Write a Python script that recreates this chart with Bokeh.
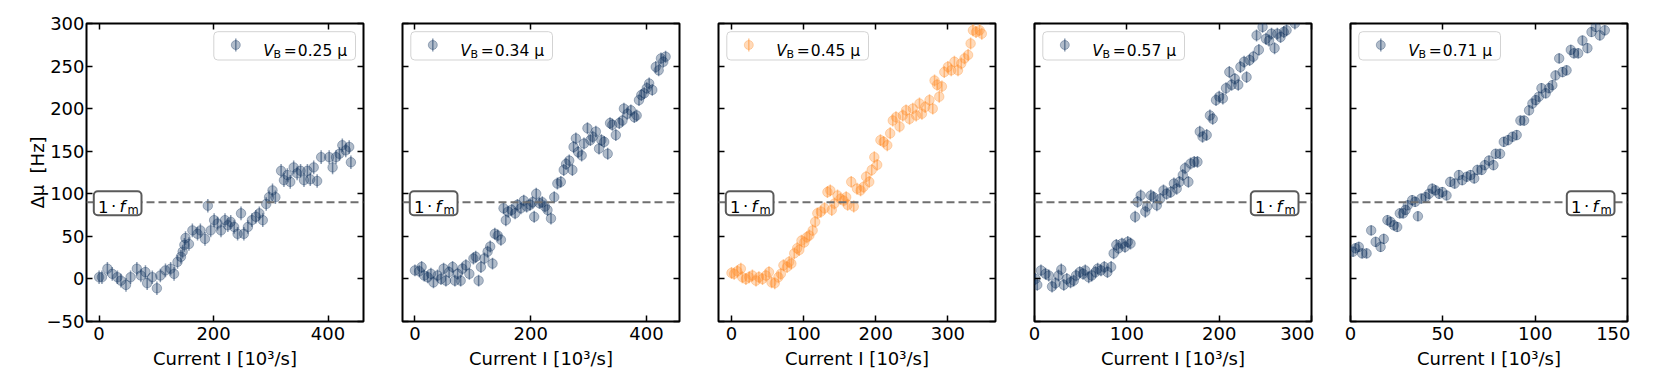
from bokeh.plotting import figure
from bokeh.layouts import row
from bokeh.models import (Range1d, FixedTicker, LinearAxis, Span, BoxAnnotation, Label,
                          CustomLabelingPolicy)
from bokeh.embed import file_html
from bokeh.resources import INLINE

FONT = "DejaVu Sans"
BLUE = "#12345f"
ORANGE = "#ff8f2e"

# ---------------- data ----------------
vb_labels = ["0.25", "0.34", "0.45", "0.57", "0.71"]
fm_level = 90

x1 = [0, 5, 14.5, 23, 32, 38, 47, 55, 66, 73, 81, 84, 93, 101, 107, 116, 125, 131, 137, 143, 146, 149, 151, 157,
      163, 172, 177, 185, 190, 195, 201, 207, 213, 220, 225, 230, 236, 242, 248, 253, 260, 267, 274, 280, 286,
      292, 297, 303, 308, 318, 323, 329, 334, 340, 346, 352, 358, 364, 369, 375, 381, 388, 402, 408, 414, 420,
      425, 431, 437, 440]
y1 = [2, 2, 12, 6, 2, -2, -7, 2, 12, 4, 8, -5, 2, -11, 4, 10, 12, 6, 20, 26, 32, 40, 48, 41, 57, 53, 57, 47, 86,
      57, 69, 65, 57, 69, 63, 67, 61, 53, 77, 53, 61, 69, 73, 77, 69, 88, 96, 104, 96, 127, 116, 122, 114, 131,
      124, 127, 116, 127, 117, 131, 115, 143, 143, 131, 143, 147, 157, 151, 155, 137]
err1 = 8

x2 = [0, 7.5, 11.5, 16, 22, 27.6, 32, 39, 45, 49.5, 53.5, 59, 65, 69, 73.7, 79, 82, 88, 94, 101, 105, 110, 114,
      120, 125.5, 130, 134, 138, 143, 148.5, 153, 157, 161, 167, 173, 177, 183, 188, 193, 199, 203, 206, 209.5,
      215, 220, 224.5, 229, 235, 240.6, 246, 252, 257, 261, 266.5, 272, 274, 278, 282, 288, 292, 298, 303, 307,
      312.5, 318, 322, 327, 333, 337, 341, 347, 353, 358.5, 361, 367, 373, 379, 383, 387, 391, 396, 400.5,
      404.6, 410, 416, 421, 425, 429, 433]
y2 = [10, 9, 14, 4, 2, 6, -4, 4, 0, 12, -2, 8, 14, -2, 6, -2, 12, 16, 6, 24, 26, -2, 14, 24, 32, 38, 18, 53, 51,
      46, 83, 69, 79, 81, 77, 87, 83, 92, 85, 87, 90, 73, 100, 89, 90, 85, 81, 71, 96, 112, 114, 128, 135, 139,
      128, 155, 165, 149, 145, 159, 177, 163, 167, 173, 153, 163, 161, 147, 183, 181, 169, 183, 186, 200, 194,
      198, 190, 192, 210, 216, 218, 224, 229.5, 222, 249, 245, 259, 255, 261]
err2 = 7

x3 = [0, 3.7, 8, 13, 15, 20, 24.5, 29, 34, 38, 43, 47.7, 52, 55.5, 60, 65, 68.5, 72, 77, 80, 83, 87, 91, 94, 97,
      101, 104.6, 108, 112.5, 116, 119, 124, 129, 133, 137, 139, 142.6, 147, 151, 155.5, 159, 161, 166, 169.5,
      174, 179, 183, 186.6, 191, 194.4, 198, 202, 206.5, 211, 216, 220, 223.6, 228, 233, 237.5, 242, 246.8,
      251.4, 256, 260.6, 264, 268.5, 274.5, 279, 281.5, 285, 288, 291.7, 295, 300, 304.6, 309, 314, 318.5,
      323, 328, 331.5, 334.7, 339, 344, 347]
y3 = [7, 6, 9, 12, 2, 0, 2, 4, -2, 2, 0, 4, 8, -4, -5, 2, 6, 16, 14, 20, 18, 30, 36, 34, 45, 43, 49, 51, 57, 67,
      77, 79, 83, 102, 104, 81, 88.5, 98, 94, 92, 96, 87, 114, 85, 106, 104, 108, 120, 114, 128, 143, 134, 163,
      161, 157, 171, 186, 190, 179, 192, 198, 188, 200, 192, 206, 194, 202, 210, 200, 233, 228, 214, 226, 243,
      249, 245, 255, 245, 253, 259, 263, 276.5, 292, 290, 292, 288]
err3 = 7

x4 = [1, 3, 7, 12, 15.5, 19, 22.7, 26, 29, 31.7, 35, 39, 42.5, 45, 49, 52.6, 55, 58.7, 62, 66, 68.4, 72, 75.6,
      79, 83, 85.7, 88.6, 91, 94.7, 98, 101, 104, 109, 111.6, 115, 120, 122, 126, 129, 132.5, 136, 139.7, 143,
      147.6, 151, 154, 157, 160.6, 163, 166.7, 169, 173, 176.5, 179, 182, 186.5, 190, 193, 196.6, 200, 204,
      207.4, 211, 213.5, 217, 220.7, 223, 227, 229.7, 233, 237, 240.5, 243, 247, 250.6, 254, 256.7, 260, 263,
      266.5, 270, 273, 282]
y4 = [0, -7, 10, 6, 4, -9, -5, 4, 11, -7, 0, -4, -2, 4, 8, 6, 10, 2, 4, 8, 12, 10, 14, 8, 14, 30, 40, 36, 41.5,
      37.6, 43.5, 41.5, 73, 90.5, 98, 79, 85, 98, 96, 86.5, 94, 104, 100, 102, 112, 106, 114, 122, 130, 114,
      135.5, 137.5, 137.5, 173, 167, 169, 192, 188, 210, 214, 212, 224, 243, 228, 235, 228, 249, 255, 237, 257,
      261, 286, 269, 296, 282, 280, 288, 271, 288, 284, 290, 292, 300]
err4 = 7

x5 = [1.4, 2.7, 4.5, 6.3, 8.7, 11.2, 13.6, 16.3, 18, 20, 21.7, 23.5, 25.3, 26.7, 28.5, 29.8, 31, 33.4, 35, 36.5,
      38.3, 40.7, 42.5, 44.3, 46, 48, 49.7, 52, 54, 56.4, 58.7, 60.5, 63, 65, 67, 68.7, 71, 72.7, 75, 77.4, 78.6,
      81, 83, 85.3, 87.7, 90, 92, 94, 96.7, 98.5, 100.3, 102, 103.4, 105.7, 107.5, 109.3, 111, 113, 114.8, 117,
      119.3, 121, 123.3, 125.6, 128.3, 130.5, 132.8, 135, 137.7]
y5 = [32, 36, 37.6, 30, 30, 57, 43.5, 37.6, 47, 69, 67, 63, 61, 77, 77, 81, 86.5, 92.5, 90.5, 73.6, 94.4, 96, 100,
      106, 104, 100, 102, 98, 114, 112, 122, 116, 120, 122, 118, 128, 128, 133.6, 139, 133.6, 147, 147, 161,
      163, 167, 169, 186, 186, 198, 206, 210, 214, 224, 218, 224, 227.6, 239, 259, 243, 245, 269, 265, 265,
      280, 271, 290, 296, 286, 292]
err5 = 6

panel_x = [x1, x2, x3, x4, x5]
panel_y = [y1, y2, y3, y4, y5]
panel_err = [err1, err2, err3, err4, err5]
panel_color = [BLUE, BLUE, ORANGE, BLUE, BLUE]
panel_xrange = [(-22, 462), (-21.5, 457), (-18, 366), (0, 300), (0, 150)]
panel_xticks = [[0, 200, 400], [0, 200, 400], [0, 100, 200, 300], [0, 100, 200, 300], [0, 50, 100, 150]]
yticks = [-50, 0, 50, 100, 150, 200, 250, 300]
y_lim = (-50, 300)

# ---------------- layout ----------------
FW, FH = 277, 298
TOP, BOTTOM, RIGHT = 23, 60, 3
FS = "18px"      # ticks / axis labels
LFS = "15.5px"   # legend / annotation text
SFS = "11px"     # subscripts

HIDE = """
for (const i of indices) {
    indices.unset(i)
}
return indices
"""


def fx(p, px):
    return p.x_range.start + px / FW * (p.x_range.end - p.x_range.start)


def fy(p, py):
    return p.y_range.end - py / FH * (p.y_range.end - p.y_range.start)


def text(p, px, py, s, size=LFS, style="normal"):
    p.add_layout(Label(x=fx(p, px), y=fy(p, py), text=s, text_font=FONT, text_font_size=size,
                       text_font_style=style, text_color="black", text_align="left",
                       text_baseline="alphabetic"))


def style_axis(ax, ticks, show_labels, standoff=5):
    ax.ticker = FixedTicker(ticks=ticks)
    ax.major_tick_in = 6
    ax.major_tick_out = 0
    ax.minor_tick_in = 0
    ax.minor_tick_out = 0
    ax.major_tick_line_width = 1.5
    ax.major_tick_line_color = "black"
    ax.axis_line_color = None
    ax.major_label_text_font = FONT
    ax.major_label_text_color = "black"
    if show_labels:
        ax.major_label_text_font_size = FS
        ax.major_label_standoff = standoff
    else:
        ax.major_label_text_font_size = "0px"
        ax.major_label_standoff = 0
        ax.major_label_policy = CustomLabelingPolicy(code=HIDE)


figs = []
for i in range(5):
    left = 86 if i == 0 else 36
    p = figure(width=left + FW + RIGHT, height=TOP + FH + BOTTOM,
               x_range=Range1d(*panel_xrange[i]), y_range=Range1d(*y_lim),
               output_backend="svg", toolbar_location=None,
               min_border_left=left, min_border_right=RIGHT,
               min_border_top=TOP, min_border_bottom=BOTTOM)
    p.grid.visible = False
    p.outline_line_color = "black"
    p.outline_line_width = 2
    p.background_fill_color = "white"
    p.border_fill_color = "white"

    style_axis(p.xaxis[0], panel_xticks[i], True, standoff=5)
    style_axis(p.yaxis[0], yticks, i == 0, standoff=2)
    if i == 0:
        p.yaxis[0].major_label_overrides = {-50: "\u221250"}
        p.yaxis[0].axis_label = "\u0394\u03bc\u00a0\u00a0[Hz]"
        p.yaxis[0].axis_label_text_font = FONT
        p.yaxis[0].axis_label_text_font_size = FS
        p.yaxis[0].axis_label_text_font_style = "normal"
        p.yaxis[0].axis_label_text_color = "black"
        p.yaxis[0].axis_label_standoff = -4
    p.xaxis[0].axis_label = "Current I [10\u00b3/s]"
    p.xaxis[0].axis_label_text_font = FONT
    p.xaxis[0].axis_label_text_font_size = FS
    p.xaxis[0].axis_label_text_font_style = "normal"
    p.xaxis[0].axis_label_text_color = "black"
    p.xaxis[0].axis_label_standoff = 5

    top_ax = LinearAxis()
    style_axis(top_ax, panel_xticks[i], False)
    p.add_layout(top_ax, "above")
    right_ax = LinearAxis()
    style_axis(right_ax, yticks, False)
    p.add_layout(right_ax, "right")

    color = panel_color[i]
    xs, ys, e = panel_x[i], panel_y[i], panel_err[i]
    lo = [v - e for v in ys]
    hi = [v + e for v in ys]
    p.segment(x0=xs, y0=lo, x1=xs, y1=hi, line_color=color, line_alpha=0.5, line_width=1.5)
    p.scatter(x=xs, y=ys, size=9.5, marker="circle", fill_color=color, fill_alpha=0.33,
              line_color=color, line_alpha=0.33)

    # dashed 1*f_m line
    p.add_layout(Span(location=fm_level, dimension="width", line_color="#6f6f6f", line_width=2,
                      line_dash="8 4"))

    # 1*f_m boxed label
    bl = 7.3 if i < 3 else FW - 13 - 47.7
    p.add_layout(BoxAnnotation(left=fx(p, bl), right=fx(p, bl + 47.7), top=fy(p, 167.7),
                               bottom=fy(p, 191.7), fill_color="white", fill_alpha=1.0,
                               line_color="#5a5a5a", line_alpha=1.0, line_width=2,
                               border_radius=4))
    text(p, bl + 4.2, 183.4, "1", size="16.5px")
    text(p, bl + 17.2, 183.4, "\u00b7", size="16.5px")
    text(p, bl + 25.6, 183.4, "f", size="16.5px", style="italic")
    text(p, bl + 33.6, 186.9, "m", size="11.5px")

    # legend
    lb = 127.3 if i == 0 else 8.3
    p.add_layout(BoxAnnotation(left=fx(p, lb), right=fx(p, lb + 141.7), top=fy(p, 8.2),
                               bottom=fy(p, 36.5), fill_color="white", fill_alpha=0.8,
                               line_color="#d3d3d3", line_alpha=1.0, line_width=1,
                               border_radius=4))
    mx = lb + 22
    r1 = p.segment(x0=[fx(p, mx)], y0=[fy(p, 28)], x1=[fx(p, mx)], y1=[fy(p, 15)],
                   line_color=color, line_alpha=0.5, line_width=1.5)
    r2 = p.scatter(x=[fx(p, mx)], y=[fy(p, 21.5)], size=9, marker="circle", fill_color=color,
                   fill_alpha=0.33, line_color=color, line_alpha=0.33)
    r1.level = "overlay"
    r2.level = "overlay"
    ts = lb + 49.5
    text(p, ts, 27.8, "V", style="italic")
    text(p, ts + 10.2, 31.3, "B", size=SFS)
    text(p, ts + 20.5, 27.8, "=")
    text(p, ts + 34.5, 27.8, vb_labels[i] + "\u00a0\u03bc")

    figs.append(p)

layout = row(*figs)
open("out.html", "w").write(file_html(layout, INLINE))
